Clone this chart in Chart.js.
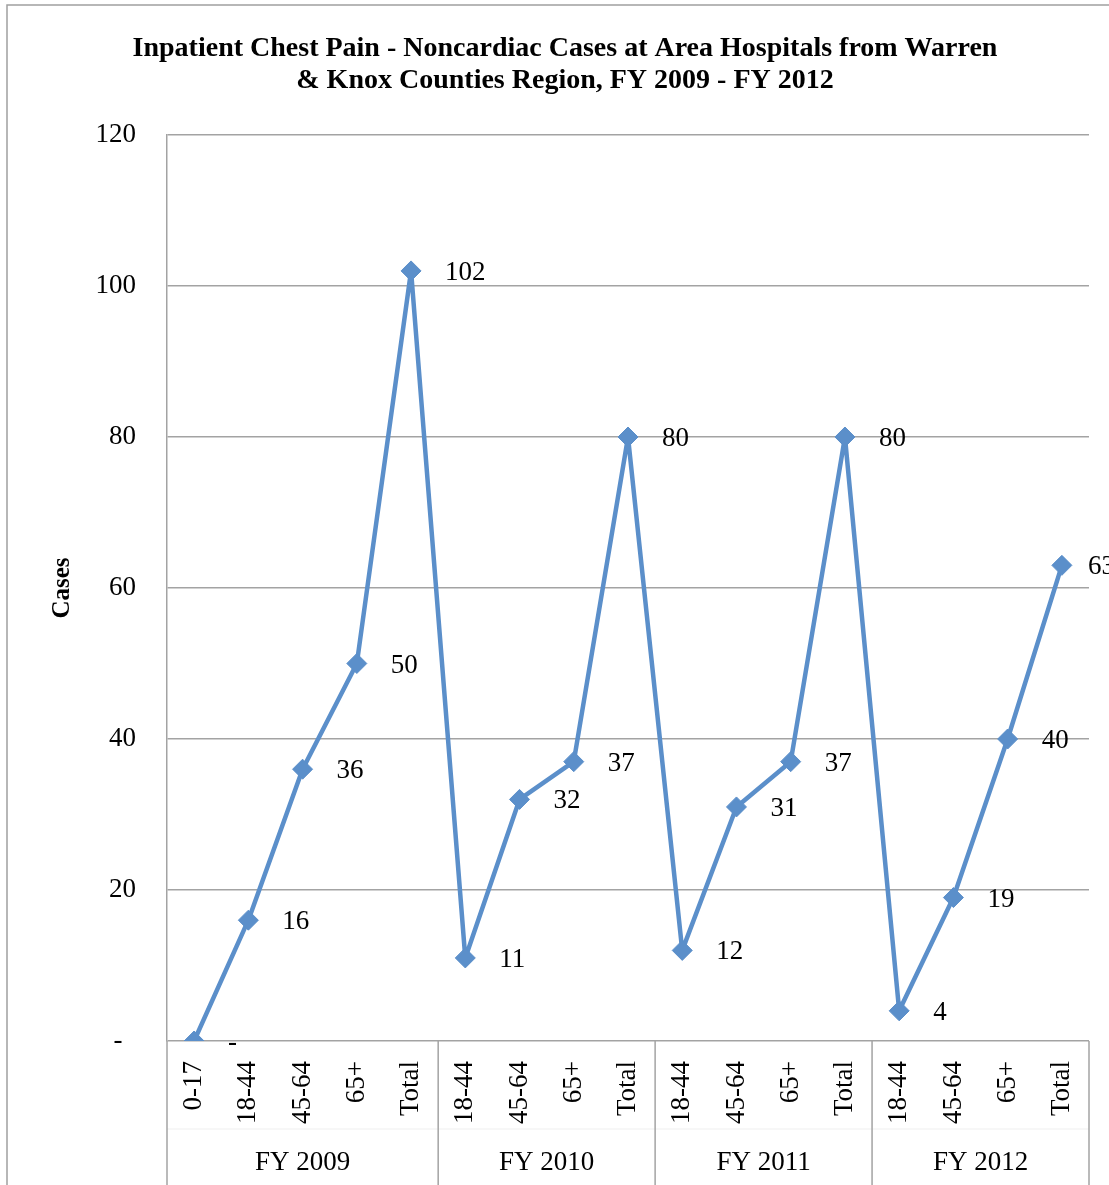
<!DOCTYPE html>
<html>
<head>
<meta charset="utf-8">
<style>
  html, body { margin: 0; padding: 0; background: #fff; }
  #wrap { width: 1109px; height: 1185px; position: relative; }
</style>
<script src="https://cdn.jsdelivr.net/npm/chart.js@4.4.1/dist/chart.umd.min.js"></script>
</head>
<body>
<div id="wrap"><canvas id="c" width="1109" height="1185"></canvas></div>
<script>
// Age-group categories along the x axis, in order
const categories = ['0-17', '18-44', '45-64', '65+', 'Total',
                    '18-44', '45-64', '65+', 'Total',
                    '18-44', '45-64', '65+', 'Total',
                    '18-44', '45-64', '65+', 'Total'];
// Inpatient case counts for each category
const cases = [0, 16, 36, 50, 102, 11, 32, 37, 80, 12, 31, 37, 80, 4, 19, 40, 63];
// Fiscal-year groups and how many categories each spans
const fiscalYears = ['FY 2009', 'FY 2010', 'FY 2011', 'FY 2012'];
const groupSizes = [5, 4, 4, 4];
// Y axis ticks
const yTicks = [0, 20, 40, 60, 80, 100, 120];

const SERIF = "'Liberation Serif', 'Times New Roman', serif";
const GRID = '#a3a3a3';
const LINE = '#5b8fca';

const fmt = v => (v === 0 ? '-' : String(v));

// Frame, value labels and the fiscal-year grouping under the axis
const decor = {
  id: 'decor',
  beforeDraw(chart) {
    const ctx = chart.ctx;
    ctx.save();
    ctx.fillStyle = '#fff';
    ctx.fillRect(0, 0, chart.width, chart.height);
    ctx.strokeStyle = '#a0a0a0';
    ctx.lineWidth = 1.5;
    ctx.beginPath();
    ctx.moveTo(7, chart.height);
    ctx.lineTo(7, 5);
    ctx.lineTo(chart.width, 5);
    ctx.stroke();
    ctx.restore();
  },
  afterDraw(chart) {
    const ctx = chart.ctx;
    const x = chart.scales.x;
    const area = chart.chartArea;
    const half = (x.getPixelForValue(1) - x.getPixelForValue(0)) / 2;

    ctx.save();
    // faint rule between age labels and fiscal-year labels
    ctx.strokeStyle = '#efefef';
    ctx.lineWidth = 1;
    ctx.beginPath();
    ctx.moveTo(area.left, 1129);
    ctx.lineTo(area.right, 1129);
    ctx.stroke();

    // group separators
    ctx.strokeStyle = GRID;
    ctx.lineWidth = 1.5;
    let idx = 0;
    const bounds = [x.getPixelForValue(0) - half];
    groupSizes.forEach(n => {
      idx += n;
      bounds.push(x.getPixelForValue(idx - 1) + half);
    });
    bounds.forEach(b => {
      ctx.beginPath();
      ctx.moveTo(b, area.bottom);
      ctx.lineTo(b, chart.height);
      ctx.stroke();
    });

    // fiscal-year labels
    ctx.fillStyle = '#000';
    ctx.font = '27px ' + SERIF;
    ctx.textAlign = 'center';
    ctx.textBaseline = 'middle';
    fiscalYears.forEach((fy, i) => {
      ctx.fillText(fy, (bounds[i] + bounds[i + 1]) / 2, 1163);
    });

    // value labels beside each point (kept from starting past the plot edge)
    const meta = chart.getDatasetMeta(0);
    ctx.textAlign = 'left';
    meta.data.forEach((pt, i) => {
      const lx = Math.min(pt.x + 34, area.right - 1);
      ctx.fillText(fmt(cases[i]), lx, pt.y + 2);
    });
    ctx.restore();
  }
};

new Chart(document.getElementById('c'), {
  type: 'line',
  data: {
    labels: categories,
    datasets: [{
      data: cases,
      borderColor: LINE,
      backgroundColor: LINE,
      borderWidth: 4.5,
      borderJoinStyle: 'round',
      borderCapStyle: 'round',
      tension: 0,
      pointStyle: 'rectRot',
      pointRadius: 10,
      pointBorderWidth: 1,
      pointBorderColor: LINE,
      pointBackgroundColor: LINE
    }]
  },
  options: {
    responsive: false,
    animation: false,
    devicePixelRatio: 1,
    layout: { padding: { left: 41, right: 20, top: 0, bottom: 0 } },
    plugins: {
      legend: { display: false },
      tooltip: { enabled: false },
      title: {
        display: true,
        text: ['Inpatient Chest Pain - Noncardiac Cases at Area Hospitals from Warren',
               '& Knox Counties Region, FY 2009 - FY 2012'],
        color: '#000',
        font: { family: SERIF, size: 28, weight: 'bold', lineHeight: 1.143 },
        padding: { top: 33, bottom: 38 }
      }
    },
    scales: {
      x: {
        offset: true,
        grid: { display: false, drawTicks: false },
        border: { display: false },
        ticks: {
          autoSkip: false,
          minRotation: 90,
          maxRotation: 90,
          padding: 20,
          color: '#000',
          font: { family: SERIF, size: 27 }
        },
        afterFit(s) { s.height = 144; s.paddingLeft = 0; s.paddingRight = 0; }
      },
      y: {
        min: 0,
        max: 120,
        afterBuildTicks(s) { s.ticks = yTicks.map(v => ({ value: v })); },
        grid: { color: GRID, lineWidth: 1.5, drawTicks: false },
        border: { display: true, color: GRID, width: 1.5 },
        ticks: {
          padding: 31,
          color: '#000',
          font: { family: SERIF, size: 27 },
          callback: v => (v === 0 ? '-  ' : String(v))
        },
        title: {
          display: true,
          text: 'Cases',
          color: '#000',
          font: { family: SERIF, size: 25, weight: 'bold' },
          padding: { top: 7, bottom: 0 }
        },
        afterFit(s) { s.width = 126; s.paddingTop = 0; s.paddingBottom = 0; }
      }
    }
  },
  plugins: [decor]
});
</script>
</body>
</html>
